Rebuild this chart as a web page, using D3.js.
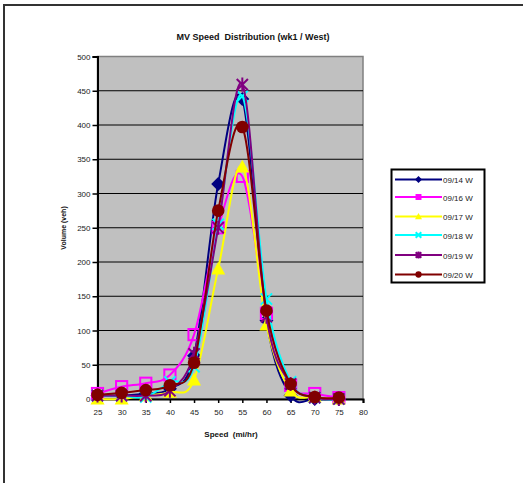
<!DOCTYPE html>
<html><head><meta charset="utf-8">
<script src="https://cdn.jsdelivr.net/npm/d3@7"></script>
<style>body{margin:0;background:#fff;}svg{display:block;font-family:"Liberation Sans",Arial,sans-serif;}</style>
</head><body><svg id="c" width="523" height="483"></svg>
<script>
const speeds = [25,30,35,40,45,50,55,60,65,70,75];
const xTicks = [25,30,35,40,45,50,55,60,65,70,75,80];
const yTicks = [0,50,100,150,200,250,300,350,400,450,500];
const seriesNames = ["09/14 W","09/16 W","09/17 W","09/18 W","09/19 W","09/20 W"];
const s0914 = [5,5,8,15,63,314,438,115,5,0,0];
const s0916 = [8,18,23,35,94,250,325,125,20,8,2];
const s0917 = [0,0,5,10,28,190,339,108,12,3,0];
const s0918 = [5,5,3,25,47,255,442,146,25,2,0];
const s0919 = [5,5,5,12,66,250,459,120,22,2,0];
const s0920 = [6,9,13,20,53,275,397,129,22,3,2];
const seriesValues = [s0914,s0916,s0917,s0918,s0919,s0920];
const colors = ["#000080","#FF00FF","#FFFF00","#00FFFF","#800080","#800000"];
const shapes = ["diamond","square","triangle","x","star","circle"];

const svg = d3.select("#c");
// outer border
svg.append("path").attr("d","M4,483 L4,5 L523,5").attr("fill","none").attr("stroke","#333").attr("stroke-width",2);

const x = d3.scaleLinear().domain([25,80]).range([97.5,363]);
const y = d3.scaleLinear().domain([0,500]).range([399,56.5]);

svg.append("rect").attr("x",x(25)).attr("y",y(500)).attr("width",x(80)-x(25)).attr("height",y(0)-y(500))
  .attr("fill","#C0C0C0").attr("stroke","#808080").attr("stroke-width",1.5);

// gridlines
svg.append("g").selectAll("line").data(yTicks.filter(d=>d>0 && d<500)).join("line")
  .attr("x1",x(25)).attr("x2",x(80)).attr("y1",d=>y(d)).attr("y2",d=>y(d))
  .attr("stroke","#000").attr("stroke-width",1);

// axes
const yAxis = d3.axisLeft(y).tickValues(yTicks).tickSize(5).tickPadding(2);
const gy = svg.append("g").attr("transform",`translate(${x(25)},0)`).call(yAxis);
gy.select(".domain").attr("stroke-width",2);
gy.selectAll("line").attr("stroke-width",1.5);
gy.selectAll("text").attr("font-size",8).attr("fill","#222").attr("font-family","Liberation Sans, Arial");

const xAxis = d3.axisBottom(x).tickValues(xTicks).tickSize(4).tickPadding(6);
const gx = svg.append("g").attr("transform",`translate(0,${y(0)})`).call(xAxis);
gx.select(".domain").attr("stroke-width",2);
gx.selectAll("line").attr("stroke-width",1.5);
gx.selectAll("text").attr("font-size",8).attr("fill","#222").attr("font-family","Liberation Sans, Arial");

// title & axis labels
svg.append("text").attr("x",253).attr("y",40).attr("text-anchor","middle").attr("font-size",9).attr("font-weight","bold")
  .attr("fill","#111").attr("xml:space","preserve").text("MV Speed  Distribution (wk1 / West)");
svg.append("text").attr("x",231).attr("y",437).attr("text-anchor","middle").attr("font-size",8).attr("font-weight","bold")
  .attr("fill","#111").attr("xml:space","preserve").text("Speed  (mi/hr)");
svg.append("text").attr("transform","translate(66,228) rotate(-90)").attr("text-anchor","middle").attr("font-size",7).attr("font-weight","bold")
  .attr("fill","#111").text("Volume (veh)");

function marker(g, shape, color, cx, cy, s, big) {
  if (shape==="diamond") {
    g.append("path").attr("d",`M${cx},${cy-s} L${cx+s},${cy} L${cx},${cy+s} L${cx-s},${cy} Z`).attr("fill",color);
  } else if (shape==="square") {
    if (big) {
      g.append("rect").attr("x",cx-s*0.8).attr("y",cy-s*0.8).attr("width",s*1.6).attr("height",s*1.6)
        .attr("fill","none").attr("stroke",color).attr("stroke-width",2);
    } else {
      g.append("rect").attr("x",cx-s*0.85).attr("y",cy-s*0.85).attr("width",s*1.7).attr("height",s*1.7).attr("fill",color);
    }
  } else if (shape==="triangle") {
    g.append("path").attr("d",`M${cx},${cy-s} L${cx+s},${cy+s*0.8} L${cx-s},${cy+s*0.8} Z`).attr("fill",color);
  } else if (shape==="x") {
    const k=s*0.8;
    g.append("path").attr("d",`M${cx-k},${cy-k} L${cx+k},${cy+k} M${cx-k},${cy+k} L${cx+k},${cy-k}`).attr("stroke",color).attr("stroke-width",2).attr("fill","none");
  } else if (shape==="star") {
    const k=s*0.8;
    g.append("path").attr("d",`M${cx-k},${cy-k} L${cx+k},${cy+k} M${cx-k},${cy+k} L${cx+k},${cy-k} M${cx},${cy-s} L${cx},${cy+s}`).attr("stroke",color).attr("stroke-width",2).attr("fill","none");
  } else if (shape==="circle") {
    g.append("circle").attr("cx",cx).attr("cy",cy).attr("r",s*0.9).attr("fill",color);
  }
}

const line = d3.line().x((d,i)=>x(speeds[i])).y(d=>y(d)).curve(d3.curveCatmullRom.alpha(0));
const plot = svg.append("g");
seriesValues.forEach((vals,k)=>{
  const g = plot.append("g");
  g.append("path").attr("d",line(vals)).attr("fill","none").attr("stroke",colors[k]).attr("stroke-width",2);
  vals.forEach((v,i)=>marker(g,shapes[k],colors[k],x(speeds[i]),y(v),7,true));
});

// legend
const lg = svg.append("g");
lg.append("rect").attr("x",391.5).attr("y",169.5).attr("width",93).attr("height",113).attr("fill","#fff").attr("stroke","#000").attr("stroke-width",2);
const rowY = [179.5,197,216.5,235,255,274.5];
seriesNames.forEach((n,k)=>{
  lg.append("line").attr("x1",395).attr("x2",442).attr("y1",rowY[k]).attr("y2",rowY[k]).attr("stroke",colors[k]).attr("stroke-width",2);
  marker(lg,shapes[k],colors[k],418.5,rowY[k],3.5,false);
  lg.append("text").attr("x",443).attr("y",rowY[k]+3.5).attr("font-size",8).attr("fill","#222").text(n);
});
</script></body></html>
